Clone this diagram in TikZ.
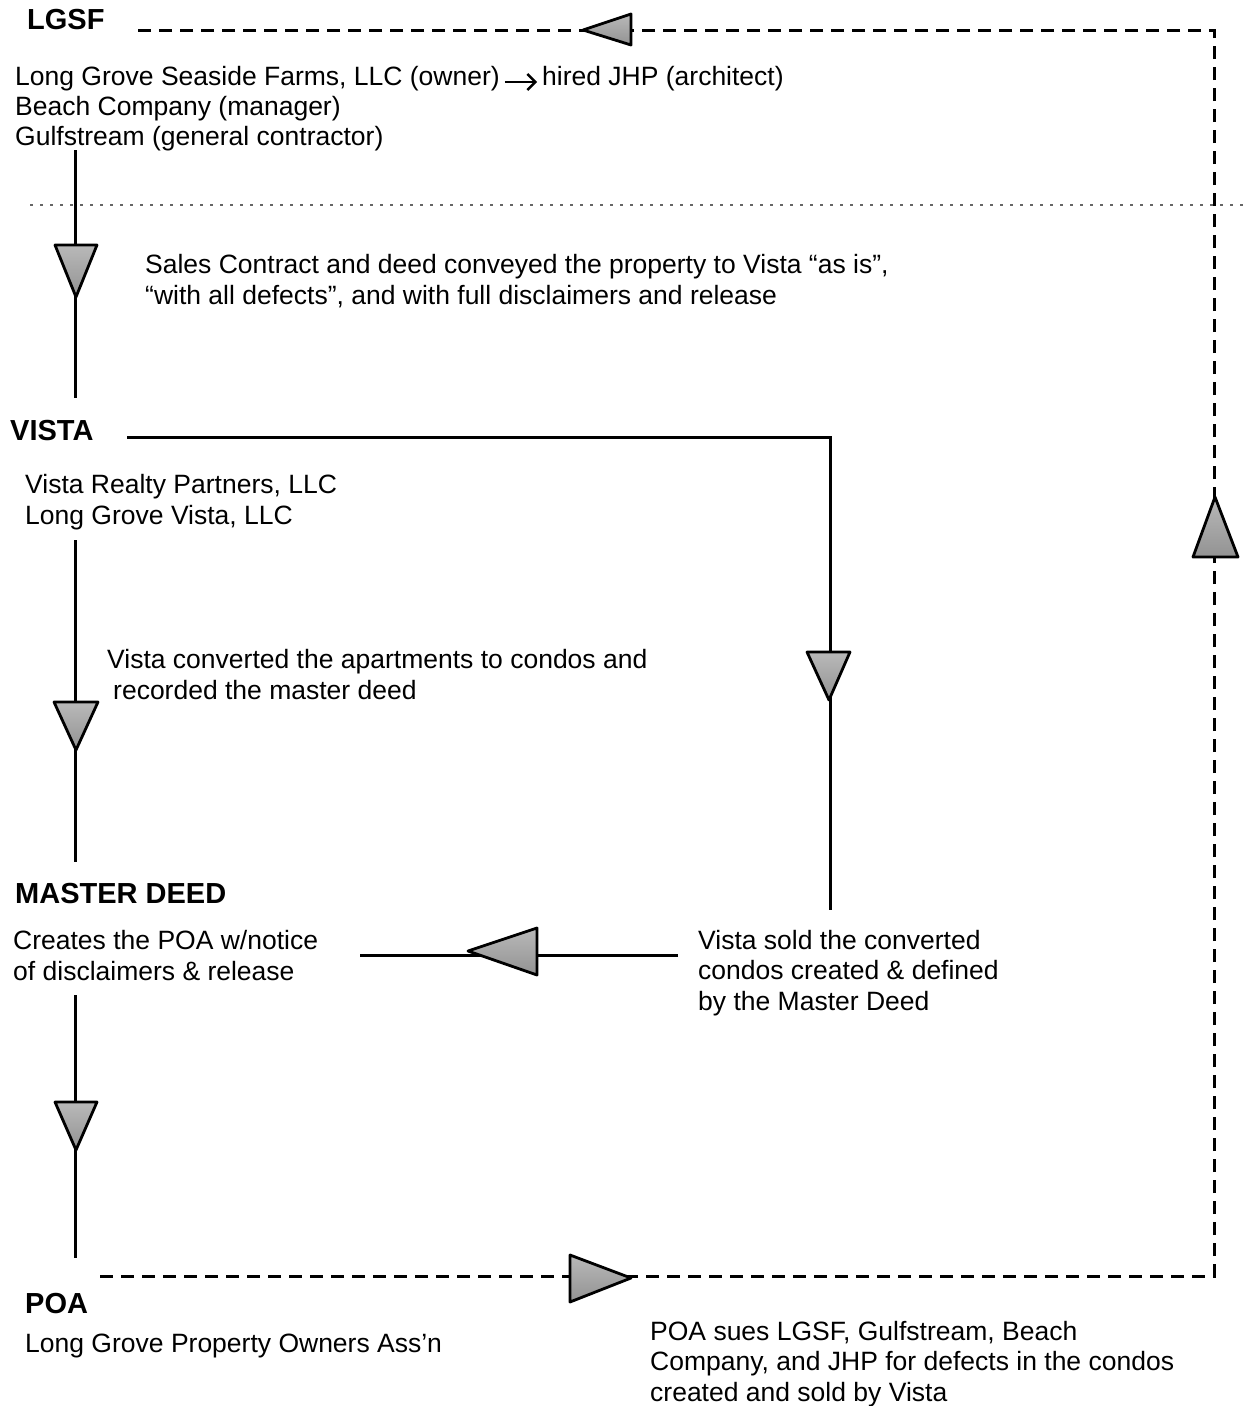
\documentclass[tikz,border=0pt]{standalone}
\usepackage{fontspec}
\setmainfont{Liberation Sans}
\usetikzlibrary{arrows.meta}
\begin{document}
\begin{tikzpicture}[x=1pt,y=-1pt,
  txt/.style={anchor=base west,inner sep=0pt,font=\fontsize{26.5}{30.5}\selectfont,align=left},
  hdr/.style={anchor=base west,inner sep=0pt,font=\fontsize{29}{30}\selectfont\bfseries},
  solidline/.style={line width=3pt},
  dashline/.style={line width=3pt,dash pattern=on 13pt off 8pt},
  tri/.style={draw=black,line width=2.8pt,line join=round,top color=gray!55,bottom color=gray!85}]
\useasboundingbox (0,0) rectangle (1246,1406);
\fill[white] (0,0) rectangle (1246,1406);
% headers
\node[hdr] (lgsf) at (27,29) {LGSF};
\node[hdr] (vista) at (10,440) {VISTA};
\node[hdr] (md) at (15,903) {MASTER DEED};
\node[hdr] (poa) at (25,1313) {POA};
% texts (base anchor = last line baseline)
\node[txt] (owner) at (15,85) {Long Grove Seaside Farms, LLC (owner)};
\node[txt] (hired) at (542,85) {hired JHP (architect)};
\node[txt] (beach) at (15,115) {Beach Company (manager)};
\node[txt] (gulf) at (15,145) {Gulfstream (general contractor)};
\node[txt] (sales) at (145,304) {Sales Contract and deed conveyed the property to Vista “as is”,\\“with all defects”, and with full disclaimers and release};
\node[txt] (vrp) at (25,524) {Vista Realty Partners, LLC\\Long Grove Vista, LLC};
\node[txt] (conv) at (107,699) {Vista converted the apartments to condos and\\\hspace*{6pt}recorded the master deed};
\node[txt] (creates) at (13,980) {Creates the POA w/notice\\of disclaimers \& release};
\node[txt] (sold) at (698,1010) {Vista sold the converted\\condos created \& defined\\by the Master Deed};
\node[txt] (lgpoa) at (25,1352) {Long Grove Property Owners Ass'n};
\node[txt] (sues) at (650,1401) {POA sues LGSF, Gulfstream, Beach\\Company, and JHP for defects in the condos\\created and sold by Vista};
% small arrow owner -> hired
\draw[line width=2.4pt,-{Straight Barb[length=8pt,width=16pt,line width=2.4pt]}] ([xshift=5pt,yshift=3pt]owner.base east) -- ([xshift=-5pt,yshift=3pt]hired.base west);
% coordinates
\coordinate (a1) at (75,150); \coordinate (a2) at (75,398);
\coordinate (b1) at (127,437); \coordinate (b2) at (830,437); \coordinate (b3) at (830,910);
\coordinate (c1) at (75,540); \coordinate (c2) at (75,862);
\coordinate (d1) at (678,955); \coordinate (d2) at (360,955);
\coordinate (e1) at (75,995); \coordinate (e2) at (75,1258);
\coordinate (f1) at (100,1276); \coordinate (f2) at (1214,1276); \coordinate (f3) at (1214,30); \coordinate (f4) at (133,30);
% faint scan line
\draw[line width=1.3pt,black!60,dash pattern=on 3pt off 7pt] (30,205) -- (1246,205);
% lines
\draw[solidline] (a1) -- (a2);
\draw[solidline] (b1) -- (b2) -- (b3);
\draw[solidline] (c1) -- (c2);
\draw[solidline] (d1) -- (d2);
\draw[solidline] (e1) -- (e2);
\draw[dashline] (f1) -- (f2) -- (f3) -- (f4);
% triangles
\draw[tri] (583,30) -- (631,14) -- (631,45) -- cycle;
\draw[tri] (1215,497) -- (1238,557) -- (1193,557) -- cycle;
\draw[tri] (55,245) -- (97,245) -- (76,297) -- cycle;
\draw[tri] (54,702) -- (98,702) -- (76,750) -- cycle;
\draw[tri] (55,1102) -- (97,1102) -- (76,1150) -- cycle;
\draw[tri] (807,652) -- (850,652) -- (829,700) -- cycle;
\draw[tri] (468,951) -- (537,928) -- (537,975) -- cycle;
\draw[tri] (570,1255) -- (631,1278) -- (570,1302) -- cycle;
\end{tikzpicture}
\end{document}
